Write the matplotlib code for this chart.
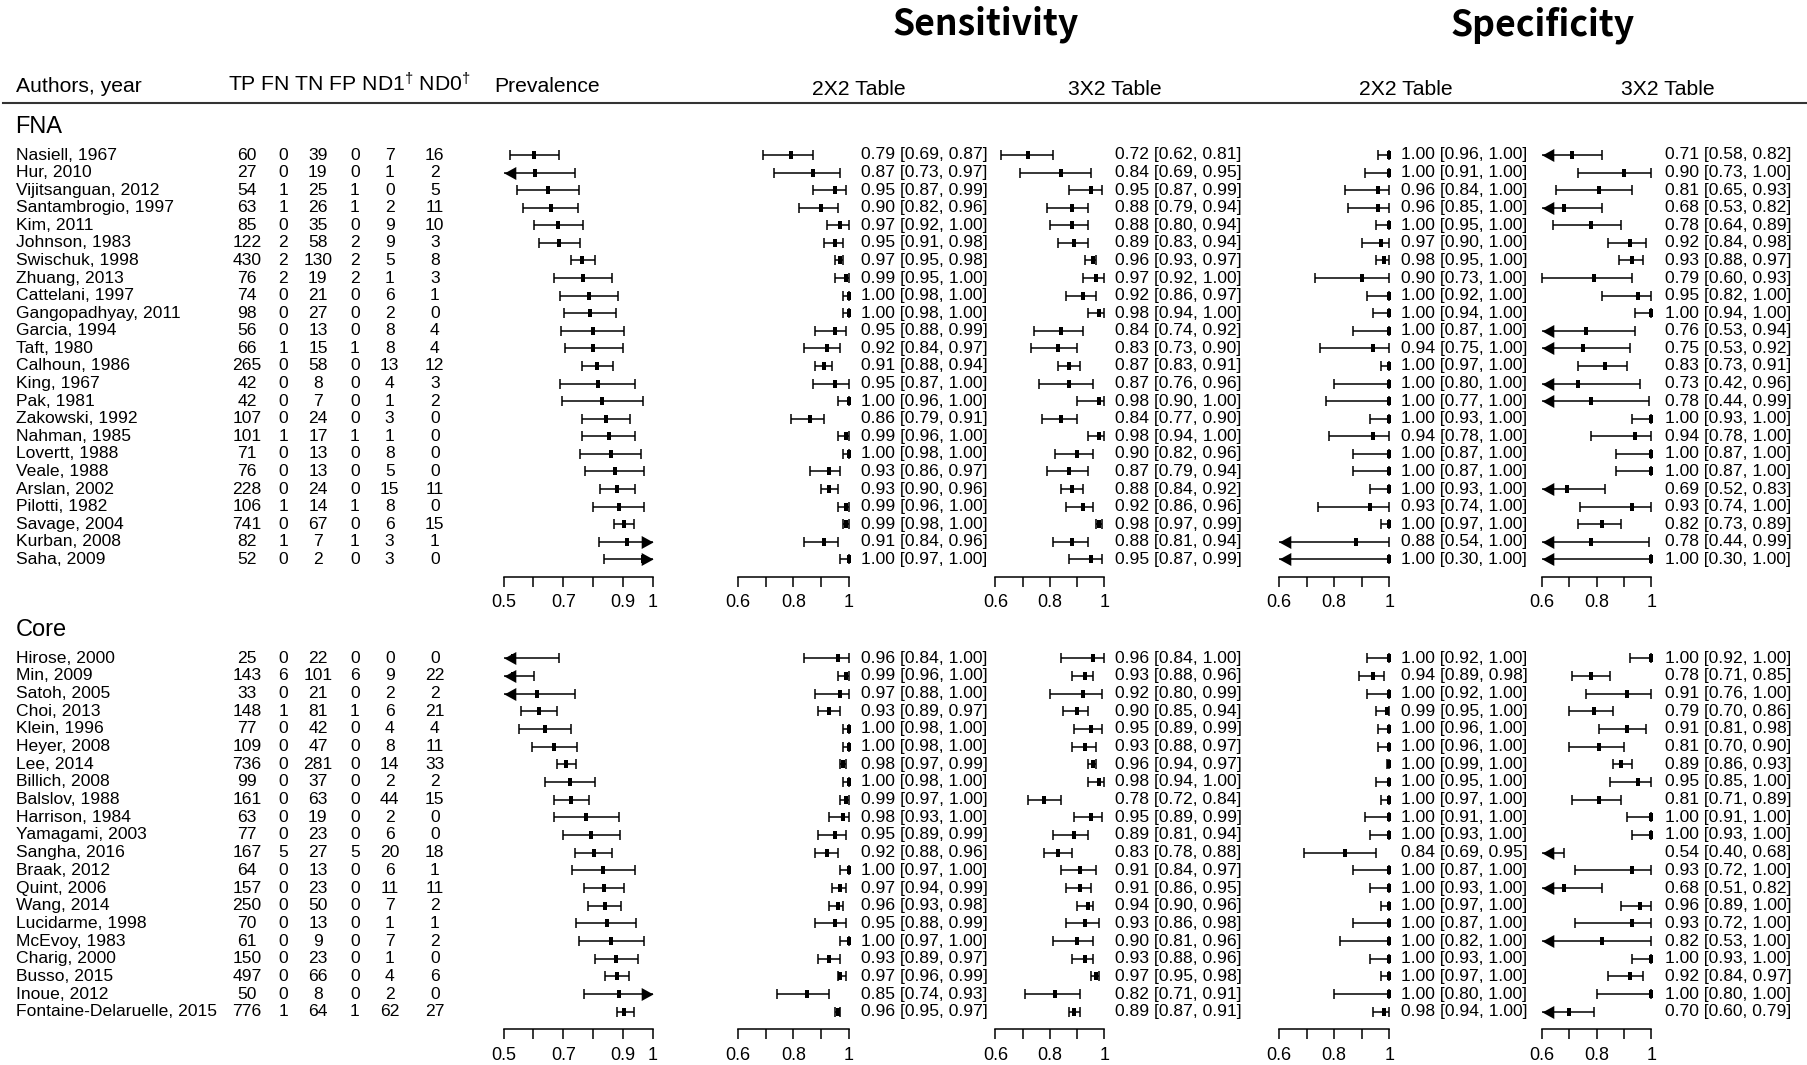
import matplotlib.pyplot as plt
import numpy as np

W, H = 1807, 1065
plt.rcParams["font.family"] = ["Liberation Sans", "DejaVu Sans"]
plt.rcParams["mathtext.fontset"] = "custom"
plt.rcParams["mathtext.rm"] = "Liberation Sans"
plt.rcParams["mathtext.it"] = "Liberation Sans"

# ---------------- data ----------------
fna_authors = ["Nasiell, 1967", "Hur, 2010", "Vijitsanguan, 2012", "Santambrogio, 1997",
               "Kim, 2011", "Johnson, 1983", "Swischuk, 1998", "Zhuang, 2013",
               "Cattelani, 1997", "Gangopadhyay, 2011", "Garcia, 1994", "Taft, 1980",
               "Calhoun, 1986", "King, 1967", "Pak, 1981", "Zakowski, 1992", "Nahman, 1985",
               "Lovertt, 1988", "Veale, 1988", "Arslan, 2002", "Pilotti, 1982",
               "Savage, 2004", "Kurban, 2008", "Saha, 2009"]
fna_tp = [60, 27, 54, 63, 85, 122, 430, 76, 74, 98, 56, 66, 265, 42, 42, 107, 101, 71, 76, 228, 106, 741, 82, 52]
fna_fn = [0, 0, 1, 1, 0, 2, 2, 2, 0, 0, 0, 1, 0, 0, 0, 0, 1, 0, 0, 0, 1, 0, 1, 0]
fna_tn = [39, 19, 25, 26, 35, 58, 130, 19, 21, 27, 13, 15, 58, 8, 7, 24, 17, 13, 13, 24, 14, 67, 7, 2]
fna_fp = [0, 0, 1, 1, 0, 2, 2, 2, 0, 0, 0, 1, 0, 0, 0, 0, 1, 0, 0, 0, 1, 0, 1, 0]
fna_nd1 = [7, 1, 0, 2, 9, 9, 5, 1, 6, 2, 8, 8, 13, 4, 1, 3, 1, 8, 5, 15, 8, 6, 3, 3]
fna_nd0 = [16, 2, 5, 11, 10, 3, 8, 3, 1, 0, 4, 4, 12, 3, 2, 0, 0, 0, 0, 11, 0, 15, 1, 0]

# prevalence (estimate, lower, upper)
fna_prev = [0.603, 0.604, 0.649, 0.657, 0.682, 0.687, 0.764, 0.766, 0.787, 0.790, 0.799, 0.800,
            0.813, 0.816, 0.828, 0.843, 0.852, 0.860, 0.872, 0.881, 0.885, 0.903, 0.913, 0.965]
fna_prev_lo = [0.521, 0.46, 0.545, 0.564, 0.603, 0.618, 0.725, 0.670, 0.688, 0.703, 0.693, 0.704,
               0.763, 0.688, 0.694, 0.764, 0.764, 0.757, 0.773, 0.824, 0.799, 0.870, 0.818, 0.837]
fna_prev_hi = [0.685, 0.740, 0.754, 0.749, 0.767, 0.755, 0.806, 0.863, 0.884, 0.876, 0.904, 0.899,
               0.866, 0.940, 0.966, 0.922, 0.940, 0.961, 0.970, 0.939, 0.970, 0.937, 1.02, 1.02]

fna_sens2 = [0.79, 0.87, 0.95, 0.90, 0.97, 0.95, 0.97, 0.99, 1.00, 1.00, 0.95, 0.92,
             0.91, 0.95, 1.00, 0.86, 0.99, 1.00, 0.93, 0.93, 0.99, 0.99, 0.91, 1.00]
fna_sens2_lo = [0.69, 0.73, 0.87, 0.82, 0.92, 0.91, 0.95, 0.95, 0.98, 0.98, 0.88, 0.84,
                0.88, 0.87, 0.96, 0.79, 0.96, 0.98, 0.86, 0.90, 0.96, 0.98, 0.84, 0.97]
fna_sens2_hi = [0.87, 0.97, 0.99, 0.96, 1.00, 0.98, 0.98, 1.00, 1.00, 1.00, 0.99, 0.97,
                0.94, 1.00, 1.00, 0.91, 1.00, 1.00, 0.97, 0.96, 1.00, 1.00, 0.96, 1.00]

fna_sens3 = [0.72, 0.84, 0.95, 0.88, 0.88, 0.89, 0.96, 0.97, 0.92, 0.98, 0.84, 0.83,
             0.87, 0.87, 0.98, 0.84, 0.98, 0.90, 0.87, 0.88, 0.92, 0.98, 0.88, 0.95]
fna_sens3_lo = [0.62, 0.69, 0.87, 0.79, 0.80, 0.83, 0.93, 0.92, 0.86, 0.94, 0.74, 0.73,
                0.83, 0.76, 0.90, 0.77, 0.94, 0.82, 0.79, 0.84, 0.86, 0.97, 0.81, 0.87]
fna_sens3_hi = [0.81, 0.95, 0.99, 0.94, 0.94, 0.94, 0.97, 1.00, 0.97, 1.00, 0.92, 0.90,
                0.91, 0.96, 1.00, 0.90, 1.00, 0.96, 0.94, 0.92, 0.96, 0.99, 0.94, 0.99]

fna_spec2 = [1.00, 1.00, 0.96, 0.96, 1.00, 0.97, 0.98, 0.90, 1.00, 1.00, 1.00, 0.94,
             1.00, 1.00, 1.00, 1.00, 0.94, 1.00, 1.00, 1.00, 0.93, 1.00, 0.88, 1.00]
fna_spec2_lo = [0.96, 0.91, 0.84, 0.85, 0.95, 0.90, 0.95, 0.73, 0.92, 0.94, 0.87, 0.75,
                0.97, 0.80, 0.77, 0.93, 0.78, 0.87, 0.87, 0.93, 0.74, 0.97, 0.54, 0.30]
fna_spec2_hi = [1.00] * 24

fna_spec3 = [0.71, 0.90, 0.81, 0.68, 0.78, 0.92, 0.93, 0.79, 0.95, 1.00, 0.76, 0.75,
             0.83, 0.73, 0.78, 1.00, 0.94, 1.00, 1.00, 0.69, 0.93, 0.82, 0.78, 1.00]
fna_spec3_lo = [0.58, 0.73, 0.65, 0.53, 0.64, 0.84, 0.88, 0.60, 0.82, 0.94, 0.53, 0.53,
                0.73, 0.42, 0.44, 0.93, 0.78, 0.87, 0.87, 0.52, 0.74, 0.73, 0.44, 0.30]
fna_spec3_hi = [0.82, 1.00, 0.93, 0.82, 0.89, 0.98, 0.97, 0.93, 1.00, 1.00, 0.94, 0.92,
                0.91, 0.96, 0.99, 1.00, 1.00, 1.00, 1.00, 0.83, 1.00, 0.89, 0.99, 1.00]

core_authors = ["Hirose, 2000", "Min, 2009", "Satoh, 2005", "Choi, 2013", "Klein, 1996",
                "Heyer, 2008", "Lee, 2014", "Billich, 2008", "Balslov, 1988", "Harrison, 1984",
                "Yamagami, 2003", "Sangha, 2016", "Braak, 2012", "Quint, 2006", "Wang, 2014",
                "Lucidarme, 1998", "McEvoy, 1983", "Charig, 2000", "Busso, 2015", "Inoue, 2012",
                "Fontaine-Delaruelle, 2015"]
core_tp = [25, 143, 33, 148, 77, 109, 736, 99, 161, 63, 77, 167, 64, 157, 250, 70, 61, 150, 497, 50, 776]
core_fn = [0, 6, 0, 1, 0, 0, 0, 0, 0, 0, 0, 5, 0, 0, 0, 0, 0, 0, 0, 0, 1]
core_tn = [22, 101, 21, 81, 42, 47, 281, 37, 63, 19, 23, 27, 13, 23, 50, 13, 9, 23, 66, 8, 64]
core_fp = [0, 6, 0, 1, 0, 0, 0, 0, 0, 0, 0, 5, 0, 0, 0, 0, 0, 0, 0, 0, 1]
core_nd1 = [0, 9, 2, 6, 4, 8, 14, 2, 44, 2, 6, 20, 6, 11, 7, 1, 7, 1, 4, 2, 62]
core_nd0 = [0, 22, 2, 21, 4, 11, 33, 2, 15, 0, 0, 18, 1, 11, 2, 1, 2, 0, 6, 0, 27]

core_prev = [0.53, 0.533, 0.612, 0.618, 0.639, 0.670, 0.710, 0.722, 0.725, 0.776, 0.791,
             0.801, 0.833, 0.836, 0.840, 0.845, 0.861, 0.876, 0.879, 0.885, 0.904]
core_prev_lo = [0.40, 0.47, 0.46, 0.557, 0.552, 0.596, 0.679, 0.640, 0.669, 0.670, 0.700,
                0.739, 0.728, 0.770, 0.784, 0.742, 0.752, 0.806, 0.839, 0.769, 0.878]
core_prev_hi = [0.685, 0.601, 0.740, 0.678, 0.724, 0.745, 0.742, 0.806, 0.787, 0.885, 0.888,
                0.864, 0.940, 0.903, 0.894, 0.943, 0.970, 0.949, 0.919, 1.02, 0.937]

core_sens2 = [0.96, 0.99, 0.97, 0.93, 1.00, 1.00, 0.98, 1.00, 0.99, 0.98, 0.95,
              0.92, 1.00, 0.97, 0.96, 0.95, 1.00, 0.93, 0.97, 0.85, 0.96]
core_sens2_lo = [0.84, 0.96, 0.88, 0.89, 0.98, 0.98, 0.97, 0.98, 0.97, 0.93, 0.89,
                 0.88, 0.97, 0.94, 0.93, 0.88, 0.97, 0.89, 0.96, 0.74, 0.95]
core_sens2_hi = [1.00, 1.00, 1.00, 0.97, 1.00, 1.00, 0.99, 1.00, 1.00, 1.00, 0.99,
                 0.96, 1.00, 0.99, 0.98, 0.99, 1.00, 0.97, 0.99, 0.93, 0.97]

core_sens3 = [0.96, 0.93, 0.92, 0.90, 0.95, 0.93, 0.96, 0.98, 0.78, 0.95, 0.89,
              0.83, 0.91, 0.91, 0.94, 0.93, 0.90, 0.93, 0.97, 0.82, 0.89]
core_sens3_lo = [0.84, 0.88, 0.80, 0.85, 0.89, 0.88, 0.94, 0.94, 0.72, 0.89, 0.81,
                 0.78, 0.84, 0.86, 0.90, 0.86, 0.81, 0.88, 0.95, 0.71, 0.87]
core_sens3_hi = [1.00, 0.96, 0.99, 0.94, 0.99, 0.97, 0.97, 1.00, 0.84, 0.99, 0.94,
                 0.88, 0.97, 0.95, 0.96, 0.98, 0.96, 0.96, 0.98, 0.91, 0.91]

core_spec2 = [1.00, 0.94, 1.00, 0.99, 1.00, 1.00, 1.00, 1.00, 1.00, 1.00, 1.00,
              0.84, 1.00, 1.00, 1.00, 1.00, 1.00, 1.00, 1.00, 1.00, 0.98]
core_spec2_lo = [0.92, 0.89, 0.92, 0.95, 0.96, 0.96, 0.99, 0.95, 0.97, 0.91, 0.93,
                 0.69, 0.87, 0.93, 0.97, 0.87, 0.82, 0.93, 0.97, 0.80, 0.94]
core_spec2_hi = [1.00, 0.98, 1.00, 1.00, 1.00, 1.00, 1.00, 1.00, 1.00, 1.00, 1.00,
                 0.95, 1.00, 1.00, 1.00, 1.00, 1.00, 1.00, 1.00, 1.00, 1.00]

core_spec3 = [1.00, 0.78, 0.91, 0.79, 0.91, 0.81, 0.89, 0.95, 0.81, 1.00, 1.00,
              0.54, 0.93, 0.68, 0.96, 0.93, 0.82, 1.00, 0.92, 1.00, 0.70]
core_spec3_lo = [0.92, 0.71, 0.76, 0.70, 0.81, 0.70, 0.86, 0.85, 0.71, 0.91, 0.93,
                 0.40, 0.72, 0.51, 0.89, 0.72, 0.53, 0.93, 0.84, 0.80, 0.597]
core_spec3_hi = [1.00, 0.85, 1.00, 0.86, 0.98, 0.90, 0.93, 1.00, 0.89, 1.00, 1.00,
                 0.68, 1.00, 0.82, 1.00, 1.00, 1.00, 1.00, 0.97, 1.00, 0.79]

# ---------------- layout (pixels, origin top-left) ----------------
fig = plt.figure(figsize=(W / 100, H / 100), dpi=100)

BODY = 12.6
HEAD = 15.2

def px_axes(x0, y0, x1, y1):
    return fig.add_axes([x0 / W, 1 - y1 / H, (x1 - x0) / W, (y1 - y0) / H])

bg = px_axes(0, 0, W, H)
bg.set_xlim(0, W)
bg.set_ylim(H, 0)
bg.axis("off")

bg.text(986, 24, "Sensitivity", ha="center", va="center", fontsize=25.6,
        fontweight="bold", family=["Noto Sans CJK KR", "DejaVu Sans"])
bg.text(1543, 25, "Specificity", ha="center", va="center", fontsize=25.6,
        fontweight="bold", family=["Noto Sans CJK KR", "DejaVu Sans"])
bg.text(15.6, 92, "Authors, year", fontsize=HEAD, va="baseline")
bg.text(227.7, 92, "TP FN TN FP ND1$^{†}$ ND0$^{†}$", fontsize=HEAD, va="baseline")
bg.text(494.6, 92, "Prevalence", fontsize=HEAD, va="baseline")
for xc in [859, 1115, 1406, 1668]:
    bg.text(xc, 95, "2X2 Table" if xc in (859, 1406) else "3X2 Table",
            fontsize=HEAD, ha="center", va="baseline")
bg.plot([3.5, W], [102.7, 102.7], color="#333333", lw=1.5)

LEFT_ARROW = [(0, 0), (1, 0.55), (1, -0.55), (0, 0)]
RIGHT_ARROW = [(0, 0), (-1, 0.55), (-1, -0.55), (0, 0)]
BOX = [(-0.5, -1), (0.5, -1), (0.5, 1), (-0.5, 1), (-0.5, -1)]

def forest(ax, est, lo, hi, xmin, xmax):
    est, lo, hi = np.asarray(est), np.asarray(lo), np.asarray(hi)
    y = np.arange(len(est))
    lo_c = np.clip(lo, xmin, xmax)
    hi_c = np.clip(hi, xmin, xmax)
    la = lo < xmin
    ra = hi > xmax
    kw = dict(ls="none", color="black", clip_on=False)
    ax.hlines(y, lo_c, hi_c, color="black", lw=1.1, clip_on=False)
    ax.plot(lo_c[~la], y[~la], marker="|", ms=7.5, mew=1.1, **kw)
    ax.plot(hi_c[~ra], y[~ra], marker="|", ms=7.5, mew=1.1, **kw)
    ax.plot(lo_c[la], y[la], marker=LEFT_ARROW, ms=17, mew=0, **kw)
    ax.plot(hi_c[ra], y[ra], marker=RIGHT_ARROW, ms=17, mew=0, **kw)
    ok = (est >= xmin) & (est <= xmax)
    ax.plot(est[ok], y[ok], marker=BOX, ms=6, mew=0, **kw)

panels = [  # (pixel x of axis start, pixel x of axis end, xmin, xmax, text x)
    (503.6, 653.0, 0.5, 1.0, None),
    (738.2, 848.6, 0.6, 1.0, 861.0),
    (995.4, 1104.3, 0.6, 1.0, 1115.4),
    (1279.1, 1389.3, 0.6, 1.0, 1401.0),
    (1542.0, 1651.4, 0.6, 1.0, 1664.6),
]
num_x = [246.9, 283.5, 317.9, 354.9, 389.7, 434.8]

def draw_group(label, label_y, y0, dy, authors, counts, series):
    n = len(authors)
    top, bot = y0 - dy, y0 + n * dy
    bg.text(15.6, label_y, label, fontsize=17, va="baseline")

    tab = px_axes(0, top, W, bot)
    tab.set_xlim(0, W)
    tab.set_ylim(n, -1)
    tab.axis("off")
    for i, name in enumerate(authors):
        tab.text(15.6, i, name, fontsize=BODY, va="center")
        for x, col in zip(num_x, counts):
            tab.text(x, i, str(col[i]), fontsize=BODY, va="center", ha="center")

    for (x0, x1, xmin, xmax, tx), (est, lo, hi) in zip(panels, series):
        ax = px_axes(x0, top, x1, bot)
        ax.set_xlim(xmin, xmax)
        ax.set_ylim(n, -1)
        ax.patch.set_visible(False)
        for s in ["top", "left", "right"]:
            ax.spines[s].set_visible(False)
        ax.spines["bottom"].set_linewidth(1.1)
        ax.spines["bottom"].set_bounds(xmin, xmax)
        ticks = np.round(np.arange(xmin, xmax + 0.001, 0.1), 1)
        ax.set_xticks(ticks)
        if xmin == 0.5:
            ax.set_xticklabels(["0.5", "", "0.7", "", "0.9", "1"])
        else:
            ax.set_xticklabels(["0.6", "", "0.8", "", "1"])
        ax.set_yticks([])
        ax.tick_params(axis="x", direction="out", length=7.5, width=1.1,
                       labelsize=BODY + 0.4, pad=5)
        forest(ax, est, lo, hi, xmin, xmax)
        if tx is not None:
            for i in range(n):
                tab.text(tx, i, f"{est[i]:.2f} [{lo[i]:.2f}, {hi[i]:.2f}]",
                         fontsize=BODY, va="center")

draw_group("FNA", 133, 155.0, 17.58, fna_authors,
           [fna_tp, fna_fn, fna_tn, fna_fp, fna_nd1, fna_nd0],
           [(fna_prev, fna_prev_lo, fna_prev_hi),
            (fna_sens2, fna_sens2_lo, fna_sens2_hi),
            (fna_sens3, fna_sens3_lo, fna_sens3_hi),
            (fna_spec2, fna_spec2_lo, fna_spec2_hi),
            (fna_spec3, fna_spec3_lo, fna_spec3_hi)])

draw_group("Core", 636, 658.3, 17.67, core_authors,
           [core_tp, core_fn, core_tn, core_fp, core_nd1, core_nd0],
           [(core_prev, core_prev_lo, core_prev_hi),
            (core_sens2, core_sens2_lo, core_sens2_hi),
            (core_sens3, core_sens3_lo, core_sens3_hi),
            (core_spec2, core_spec2_lo, core_spec2_hi),
            (core_spec3, core_spec3_lo, core_spec3_hi)])

fig.savefig("out.png", dpi=100)
